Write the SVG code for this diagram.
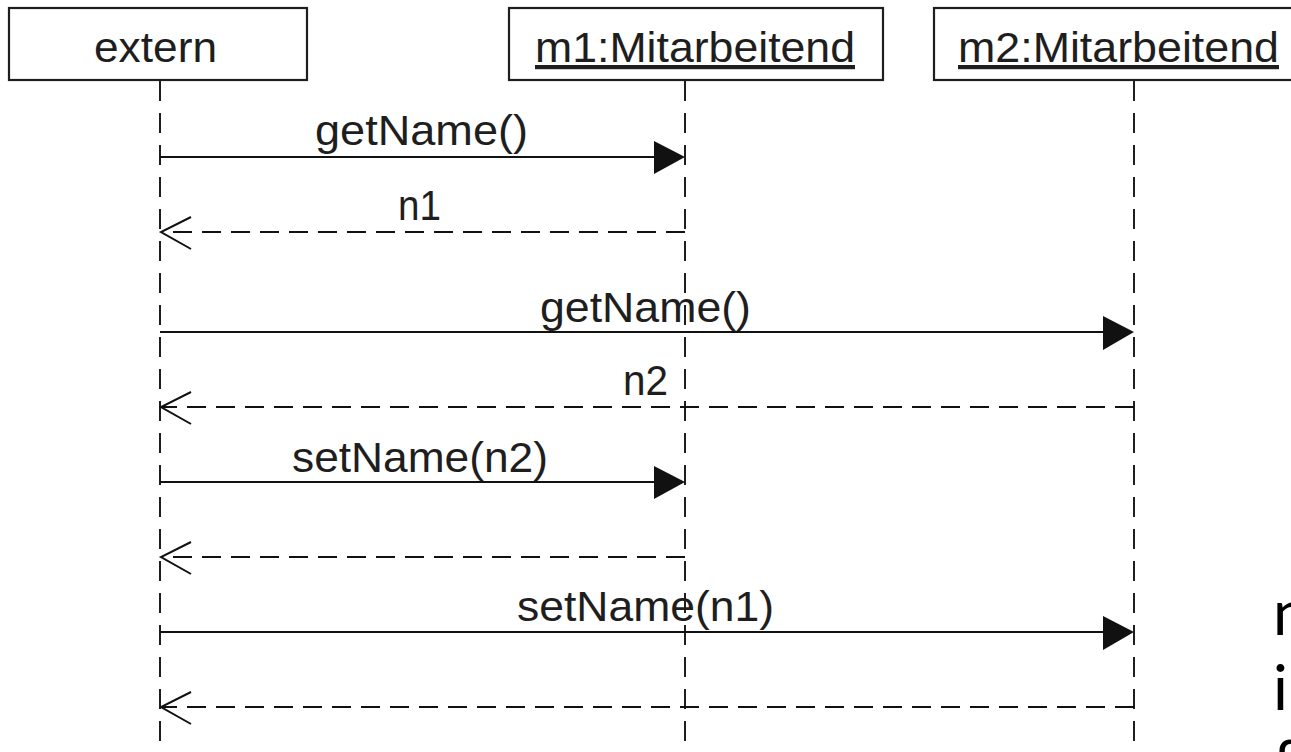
<svg xmlns="http://www.w3.org/2000/svg" width="1291" height="752" viewBox="0 0 1291 752">
<defs>
<style>
.box{fill:#fff;stroke:#1e1e1e;stroke-width:2.2}
.lbl{font-family:"Liberation Sans",Arial,sans-serif;font-size:42px;fill:#1e1e1e}
.life{stroke:#1e1e1e;stroke-width:2;stroke-dasharray:20 12;fill:none}
.msg{stroke:#111;stroke-width:2.2;fill:none}
.ret{stroke:#111;stroke-width:2.2;stroke-dasharray:19 10;fill:none}
.open{stroke:#111;stroke-width:2;fill:none}
.head{fill:#111;stroke:none}
.side{font-family:Lato,"Open Sans",sans-serif;font-size:62px;fill:#000}
</style>
</defs>
<rect width="1291" height="752" fill="#fff"/>
<g id="lifelines">
<line class="life" x1="160" y1="81" x2="160" y2="752"/>
<line class="life" x1="685" y1="81" x2="685" y2="752"/>
<line class="life" x1="1134" y1="81" x2="1134" y2="752"/>
</g>
<g id="extern">
<rect class="box" x="9" y="8" width="298" height="72"/>
<text class="lbl" x="94" y="62" textLength="123" lengthAdjust="spacingAndGlyphs">extern</text>
</g>
<g id="m1">
<rect class="box" x="509" y="8" width="374" height="72"/>
<text class="lbl" x="535" y="62" textLength="320" lengthAdjust="spacingAndGlyphs" text-decoration="underline">m1:Mitarbeitend</text>
</g>
<g id="m2">
<rect class="box" x="934" y="8" width="372" height="72"/>
<text class="lbl" x="958" y="62" textLength="321" lengthAdjust="spacingAndGlyphs" text-decoration="underline">m2:Mitarbeitend</text>
</g>
<g id="connectors">
<line class="msg" x1="160" y1="157" x2="656" y2="157"/>
<polygon class="head" points="685,157 654,141 654,174"/>
<text class="lbl" x="315" y="145" textLength="213" lengthAdjust="spacingAndGlyphs">getName()</text>

<line class="ret" x1="685" y1="232" x2="162" y2="232"/>
<polyline class="open" points="191,217 161,232 191,249"/>
<text class="lbl" x="398" y="220" textLength="43" lengthAdjust="spacingAndGlyphs">n1</text>

<line class="msg" x1="160" y1="332" x2="1105" y2="332"/>
<polygon class="head" points="1134,332 1103,316 1103,350"/>
<text class="lbl" x="540" y="322" textLength="211" lengthAdjust="spacingAndGlyphs">getName()</text>

<line class="ret" x1="1134" y1="407" x2="162" y2="407"/>
<polyline class="open" points="191,392 161,407 191,424"/>
<text class="lbl" x="623" y="395" textLength="45" lengthAdjust="spacingAndGlyphs">n2</text>

<line class="msg" x1="160" y1="482" x2="656" y2="482"/>
<polygon class="head" points="685,482 654,466 654,499"/>
<text class="lbl" x="292" y="472" textLength="256" lengthAdjust="spacingAndGlyphs">setName(n2)</text>

<line class="ret" x1="685" y1="557" x2="162" y2="557"/>
<polyline class="open" points="191,542 161,557 191,574"/>

<line class="msg" x1="160" y1="632" x2="1105" y2="632"/>
<polygon class="head" points="1134,632 1103,616 1103,650"/>
<text class="lbl" x="517" y="621" textLength="257" lengthAdjust="spacingAndGlyphs">setName(n1)</text>

<line class="ret" x1="1134" y1="707" x2="162" y2="707"/>
<polyline class="open" points="191,692 161,707 191,724"/>
</g>
<g id="side-text">
<text class="side" x="1273" y="635">n</text>
<text class="side" x="1273" y="710">i</text>
<text class="side" x="1273" y="785">f</text>
</g>
</svg>
